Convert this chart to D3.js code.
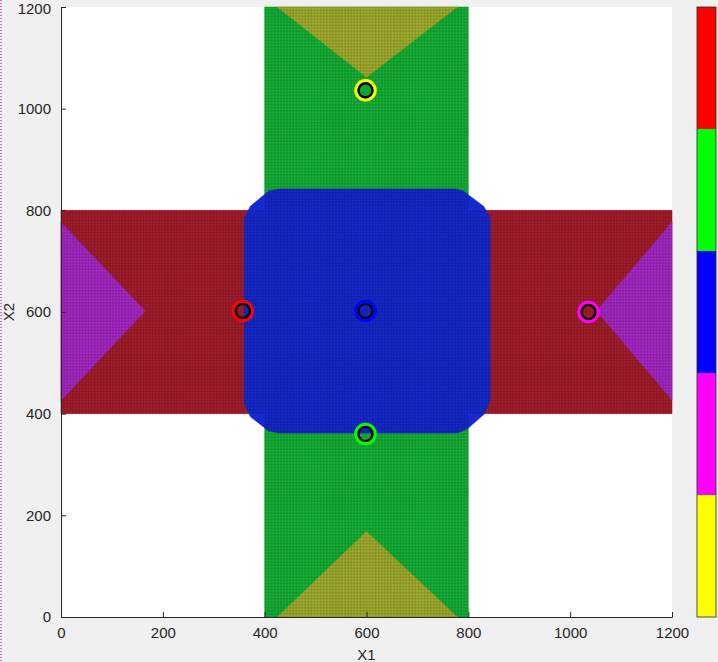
<!DOCTYPE html>
<html lang="en">
  <head>
    <meta charset="UTF-8" />
    <script src="https://d3js.org/d3.v7.min.js"></script>
    <title>Decision regions X1 / X2</title>
    <style type="text/css">
      body { margin: 0; background: #f0f0f0; }
      text { font-family: 'Liberation Sans', Arial, sans-serif; fill: #262626; }
    </style>
  </head>
  <body>
    <svg width="718" height="662"></svg>
  </body>
  <script type="text/javascript">
    // class colours (colorbar, top to bottom) and the shaded region colours
    const classColors = ['#ff0000', '#00ff00', '#0000ff', '#ff00ff', '#ffff00'];
    const regionColors = ['#a61e2c', '#15b437', '#1529cf', '#a828c8', '#a4b02e'];

    // ticks
    const xTicks = [0, 200, 400, 600, 800, 1000, 1200];
    const yTicks = [0, 200, 400, 600, 800, 1000, 1200];

    // prototypes (x1, x2, class index)
    const protoX = [357, 598, 1036, 598, 598];
    const protoY = [602, 602, 600, 360, 1036];
    const protoClass = [0, 2, 3, 1, 4];

    // region polygons in data units, drawn in this order
    const verticalBar = [[400, 0], [800, 0], [800, 1200], [400, 1200]];
    const leftBar = [[0, 400], [400, 400], [400, 800], [0, 800]];
    const rightBar = [[800, 400], [1200, 400], [1200, 800], [800, 800]];
    const oliveTop = [[425, 1200], [778, 1200], [600, 1062]];
    const oliveBottom = [[425, 0], [778, 0], [600, 168]];
    const purpleLeft = [[0, 776], [165, 602], [0, 426]];
    const purpleRight = [[1200, 777], [1052, 602], [1200, 427]];
    const blueBlock = [
      [428, 842], [775, 842], [790, 838], [830, 808], [843, 785],
      [843, 427], [832, 400], [800, 372], [780, 362],
      [428, 362], [408, 366], [372, 394], [360, 420],
      [360, 785], [372, 808], [408, 838]
    ];

    const svg = d3.select('svg');
    const width = +svg.attr('width');
    const height = +svg.attr('height');

    svg.append('rect').attr('width', width).attr('height', height).attr('fill', '#f0f0f0');

    // window artifact on the left edge
    svg.append('line')
      .attr('x1', 1).attr('x2', 1).attr('y1', 0).attr('y2', height)
      .attr('stroke', '#c24cc2').attr('stroke-width', 1.5).attr('stroke-dasharray', '1,2');

    const x = d3.scaleLinear().domain([0, 1200]).range([61, 672]);
    const y = d3.scaleLinear().domain([0, 1200]).range([617, 7]);

    // axes background
    svg.append('rect')
      .attr('x', x(0)).attr('y', y(1200))
      .attr('width', x(1200) - x(0)).attr('height', y(0) - y(1200))
      .attr('fill', '#ffffff');

    // dot-grid texture
    const step = 6;
    const pw = x(step) - x(0);
    const ph = y(0) - y(step);
    const defs = svg.append('defs');
    const pat = defs.append('pattern')
      .attr('id', 'dots')
      .attr('patternUnits', 'userSpaceOnUse')
      .attr('x', x(0)).attr('y', y(1200))
      .attr('width', pw).attr('height', ph);
    pat.append('rect')
      .attr('width', pw).attr('height', ph)
      .attr('fill', 'none')
      .attr('stroke', 'rgba(0,0,0,0.26)')
      .attr('stroke-width', 0.7);

    const line = d3.line().x((d) => x(d[0])).y((d) => y(d[1]));
    const poly = (pts) => line(pts) + 'Z';

    const regions = [
      { pts: verticalBar, c: 1 },
      { pts: leftBar, c: 0 },
      { pts: rightBar, c: 0 },
      { pts: oliveTop, c: 4 },
      { pts: oliveBottom, c: 4 },
      { pts: purpleLeft, c: 3 },
      { pts: purpleRight, c: 3 },
      { pts: blueBlock, c: 2 }
    ];

    const gRegions = svg.append('g');
    gRegions.selectAll('path.region')
      .data(regions)
      .join('path')
      .attr('class', 'region')
      .attr('d', (d) => poly(d.pts))
      .attr('fill', (d) => regionColors[d.c])
      .attr('stroke', (d) => regionColors[d.c])
      .attr('stroke-width', 0.6);

    // texture over the cross
    gRegions.selectAll('path.texture')
      .data([verticalBar, leftBar, rightBar])
      .join('path')
      .attr('class', 'texture')
      .attr('d', (d) => poly(d))
      .attr('fill', 'url(#dots)');

    // prototypes
    const protos = protoX.map((v, i) => ({ x: v, y: protoY[i], c: protoClass[i] }));
    const gp = svg.append('g');
    gp.selectAll('circle.outer')
      .data(protos)
      .join('circle')
      .attr('class', 'outer')
      .attr('cx', (d) => x(d.x)).attr('cy', (d) => y(d.y))
      .attr('r', 9.8)
      .attr('fill', 'none')
      .attr('stroke', (d) => classColors[d.c])
      .attr('stroke-width', 3);
    gp.selectAll('circle.inner')
      .data(protos)
      .join('circle')
      .attr('class', 'inner')
      .attr('cx', (d) => x(d.x)).attr('cy', (d) => y(d.y))
      .attr('r', 7)
      .attr('fill', 'none')
      .attr('stroke', '#000000')
      .attr('stroke-width', 2.2);

    // axes (ticks point inward, no box)
    const xAxis = svg.append('g')
      .attr('transform', `translate(0, ${y(0)})`)
      .call(d3.axisBottom(x).tickValues(xTicks).tickFormat(d3.format('d')).tickSize(-5).tickPadding(10));
    const yAxis = svg.append('g')
      .attr('transform', `translate(${x(0)}, 0)`)
      .call(d3.axisLeft(y).tickValues(yTicks).tickFormat(d3.format('d')).tickSize(-5).tickPadding(10));
    [xAxis, yAxis].forEach((a) => {
      a.select('.domain').attr('stroke', '#262626');
      a.selectAll('.tick line').attr('stroke', '#262626');
      a.selectAll('.tick text').attr('font-size', '15px').attr('fill', '#262626');
    });
    // keep the top label inside the window
    yAxis.selectAll('.tick text').filter((d) => d === 1200).attr('dy', '0.4em');

    svg.append('text')
      .attr('x', x(600)).attr('y', 660)
      .attr('text-anchor', 'middle')
      .attr('font-size', '15px')
      .text('X1');
    svg.append('text')
      .attr('transform', `translate(14, ${y(600)}) rotate(-90)`)
      .attr('text-anchor', 'middle')
      .attr('font-size', '15px')
      .text('X2');

    // colorbar
    const cb = d3.scaleBand().domain(d3.range(classColors.length)).range([7, 617]);
    svg.append('g').selectAll('rect')
      .data(classColors)
      .join('rect')
      .attr('x', 697)
      .attr('y', (d, i) => cb(i))
      .attr('width', 19)
      .attr('height', cb.bandwidth())
      .attr('fill', (d) => d);
    svg.append('rect')
      .attr('x', 697).attr('y', 7).attr('width', 19).attr('height', 610)
      .attr('fill', 'none').attr('stroke', '#262626').attr('stroke-width', 0.8);
  </script>
</html>
